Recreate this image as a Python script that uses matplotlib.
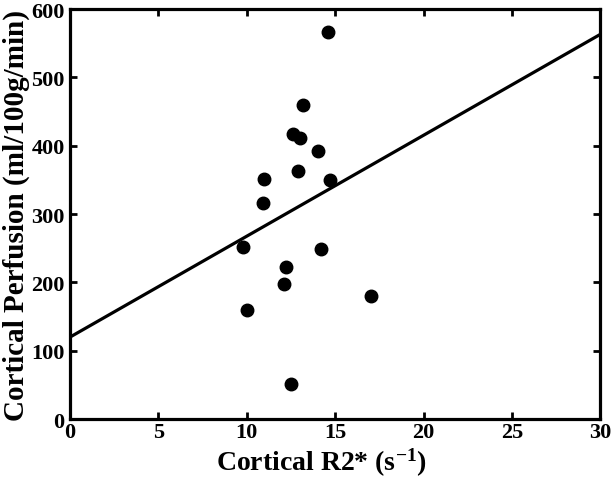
import matplotlib
matplotlib.use("Agg")
import matplotlib.pyplot as plt
import numpy as np

# Cortical R2* (s^-1) vs cortical perfusion (ml/100g/min)
r2_star = [14.6, 13.2, 12.6, 13.0, 14.0, 11.0, 12.9, 14.7, 10.9, 9.8,
           14.2, 12.2, 12.1, 10.0, 17.0, 12.5]
perfusion = [566, 460, 417, 412, 392, 352, 363, 350, 316, 252,
             249, 223, 197, 160, 180, 51]

# regression line shown in the figure
fit_intercept = 120
fit_slope = 14.77

x_ticks = [0, 5, 10, 15, 20, 25, 30]
y_ticks = [0, 100, 200, 300, 400, 500, 600]

plt.rcParams["font.family"] = ["Liberation Serif", "DejaVu Serif"]
plt.rcParams["font.weight"] = "bold"
plt.rcParams["mathtext.fontset"] = "custom"
plt.rcParams["mathtext.rm"] = "Liberation Serif:bold"
plt.rcParams["mathtext.it"] = "Liberation Serif:bold"
plt.rcParams["mathtext.bf"] = "Liberation Serif:bold"

fig = plt.figure(figsize=(6.15, 4.85), dpi=100)
ax = fig.add_axes([0.114, 0.134, 0.862, 0.845])

xs = np.array([x_ticks[0], x_ticks[-1]])
ax.plot(xs, fit_intercept + fit_slope * xs, color="black", lw=2.3, solid_capstyle="butt")
ax.plot(r2_star, perfusion, "o", color="black", ms=9, mec="black")

ax.set_xlim(x_ticks[0], x_ticks[-1])
ax.set_ylim(y_ticks[0], y_ticks[-1])
ax.set_xticks(x_ticks)
ax.set_yticks(y_ticks)
ax.tick_params(direction="in", length=5, width=2, labelsize=16,
               top=True, right=True)
ax.tick_params(axis="x", pad=2)
ax.tick_params(axis="y", pad=4)
for lab in ax.get_xticklabels() + ax.get_yticklabels():
    lab.set_fontweight("bold")
for sp in ax.spines.values():
    sp.set_linewidth(2.3)

ax.set_xlabel(r"Cortical R2* (s$^{-1}$)", fontsize=20, fontweight="bold", labelpad=0)
ax.xaxis.set_label_coords(0.474, -0.065, transform=ax.transAxes)
ax.xaxis.label.set_va("top")
ax.set_ylabel("Cortical Perfusion (ml/100g/min)", fontsize=21, fontweight="bold", labelpad=1)

fig.savefig("out.png", dpi=100)
